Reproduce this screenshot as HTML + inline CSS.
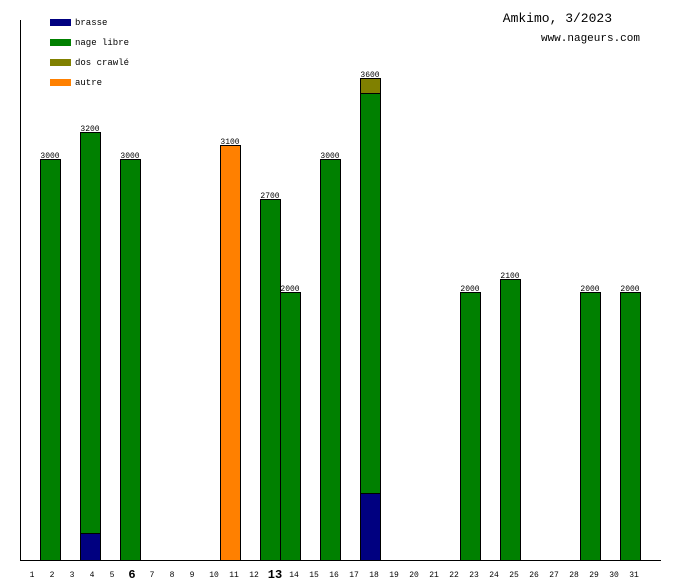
<!DOCTYPE html><html><head><style>body{margin:0;background:#fff}svg text{font-family:"Liberation Mono",monospace}</style></head><body>
<svg width="680" height="580" xmlns="http://www.w3.org/2000/svg">
<rect width="680" height="580" fill="#fff"/>
<line x1="20.5" y1="20" x2="20.5" y2="560" stroke="#000"/>
<line x1="20" y1="560.5" x2="661" y2="560.5" stroke="#000"/>
<g font-size="9">
<rect x="50" y="19" width="21" height="7" fill="#000080"/><text x="75" y="25">brasse</text>
<rect x="50" y="39" width="21" height="7" fill="#008000"/><text x="75" y="45">nage libre</text>
<rect x="50" y="59" width="21" height="7" fill="#808000"/><text x="75" y="65">dos crawlé</text>
<rect x="50" y="79" width="21" height="7" fill="#ff8000"/><text x="75" y="85">autre</text>
</g>
<text x="612" y="22" font-size="13" text-anchor="end">Amkimo, 3/2023</text>
<text x="640" y="41" font-size="11" text-anchor="end">www.nageurs.com</text>
<g stroke="#000" stroke-width="1">
<rect x="40.5" y="159.5" width="20" height="401" fill="#008000"/>
<rect x="80.5" y="132.5" width="20" height="428" fill="#008000"/>
<rect x="80.5" y="533.5" width="20" height="27" fill="#000080"/>
<rect x="120.5" y="159.5" width="20" height="401" fill="#008000"/>
<rect x="220.5" y="145.5" width="20" height="415" fill="#ff8000"/>
<rect x="260.5" y="199.5" width="20" height="361" fill="#008000"/>
<rect x="280.5" y="292.5" width="20" height="268" fill="#008000"/>
<rect x="320.5" y="159.5" width="20" height="401" fill="#008000"/>
<rect x="360.5" y="78.5" width="20" height="15" fill="#808000"/>
<rect x="360.5" y="93.5" width="20" height="400" fill="#008000"/>
<rect x="360.5" y="493.5" width="20" height="67" fill="#000080"/>
<rect x="460.5" y="292.5" width="20" height="268" fill="#008000"/>
<rect x="500.5" y="279.5" width="20" height="281" fill="#008000"/>
<rect x="580.5" y="292.5" width="20" height="268" fill="#008000"/>
<rect x="620.5" y="292.5" width="20" height="268" fill="#008000"/>
</g>
<g font-size="8" text-anchor="middle">
<text x="50" y="158">3000</text><text x="90" y="131">3200</text><text x="130" y="158">3000</text>
<text x="230" y="144">3100</text><text x="270" y="198">2700</text><text x="290" y="291">2000</text>
<text x="330" y="158">3000</text><text x="370" y="77">3600</text><text x="470" y="291">2000</text>
<text x="510" y="278">2100</text><text x="590" y="291">2000</text><text x="630" y="291">2000</text>
</g>
<g font-size="8" text-anchor="middle">
<text x="32" y="577">1</text><text x="52" y="577">2</text><text x="72" y="577">3</text><text x="92" y="577">4</text><text x="112" y="577">5</text>
<text x="132" y="578" font-size="12" font-weight="bold">6</text>
<text x="152" y="577">7</text><text x="172" y="577">8</text><text x="192" y="577">9</text><text x="214" y="577">10</text><text x="234" y="577">11</text><text x="254" y="577">12</text>
<text x="275" y="578" font-size="12" font-weight="bold">13</text>
<text x="294" y="577">14</text><text x="314" y="577">15</text><text x="334" y="577">16</text><text x="354" y="577">17</text><text x="374" y="577">18</text><text x="394" y="577">19</text><text x="414" y="577">20</text><text x="434" y="577">21</text><text x="454" y="577">22</text><text x="474" y="577">23</text><text x="494" y="577">24</text><text x="514" y="577">25</text><text x="534" y="577">26</text><text x="554" y="577">27</text><text x="574" y="577">28</text><text x="594" y="577">29</text><text x="614" y="577">30</text><text x="634" y="577">31</text>
</g>
</svg></body></html>
